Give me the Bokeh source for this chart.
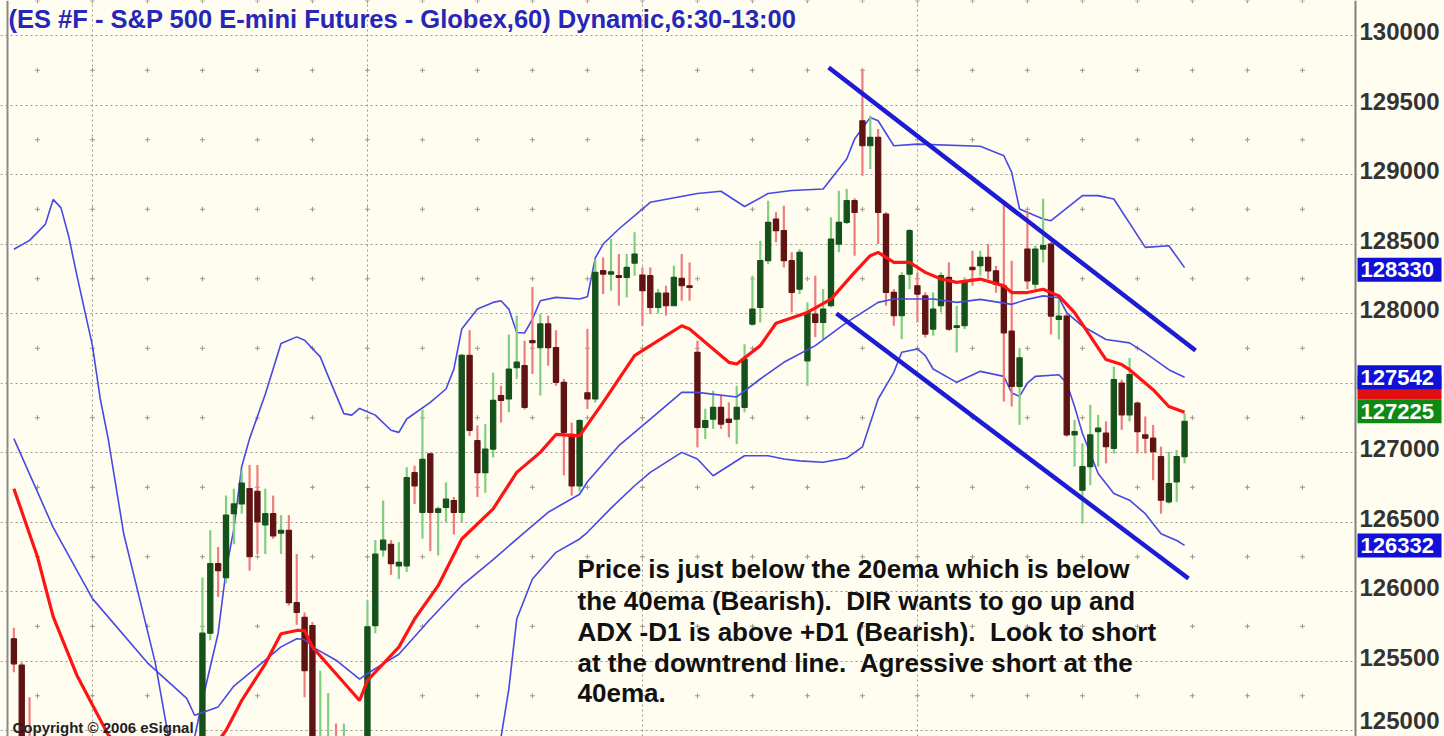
from bokeh.plotting import figure
from bokeh.models import Range1d, FixedTicker, Span
from bokeh.core.properties import value
from bokeh.embed import file_html
from bokeh.resources import INLINE

# ---------------- data ----------------
title_text = "(ES #F - S&P 500 E-mini Futures - Globex,60) Dynamic,6:30-13:00"
note_lines = [
    "Price is just below the 20ema which is below",
    "the 40ema (Bearish).\u00a0 DIR wants to go up and",
    "ADX -D1 is above +D1 (Bearish).\u00a0 Look to short",
    "at the downtrend line.\u00a0 Agressive short at the",
    "40ema.",
]
copyright_text = "Copyright \u00a9 2006 eSignal"

price_ticks = [125000, 125500, 126000, 126500, 127000, 127500,
               128000, 128500, 129000, 129500, 130000]
label_ticks = [125000, 125500, 126000, 126500, 127000,
               128000, 128500, 129000, 129500, 130000]
week_start_bars = [10, 45, 80, 115]

# hourly bars (bar index, open, high, low, close)
bar = [0, 1, 2] + list(range(24, 43)) + list(range(45, 150))
open_ = [125660, 125470, 124900,
         124850, 125700, 126200, 126100, 126560, 126630, 126740, 126720, 126480, 126560,
         126420, 126440, 125920, 125815, 125755, 124700, 124750, 124900, 124700,
         124850, 125755, 126300, 126340, 126185, 126185, 126855, 126570, 126990, 126570,
         126605, 126655, 126570, 127700, 127085, 126855, 127025, 127410, 127385, 127610,
         127625, 127805, 127755, 127925, 127755, 127505, 127130, 126760, 127430, 127385,
         128308, 128284, 128272, 128260, 128363, 128277, 128272, 128044, 128147, 128056,
         128253, 128200, 127720, 127180, 127240, 127325, 127240, 127240, 127325, 127924,
         128044, 128380, 128680, 128596, 128380, 128176, 127660, 127996, 127936, 128056,
         128500, 128656, 128812, 129387, 129207, 129267, 128716, 128152, 127984, 128284,
         128200, 128128, 127888, 128056, 128260, 127900, 127912, 128332, 128344, 128404,
         128307, 128199, 127873, 127476, 128464, 128211, 128464, 128500, 127958, 127982,
         127127, 126729, 126898, 127151, 127139, 127030, 127500, 127271, 127355, 127127,
         127103, 126970, 126645, 126789, 126970]
high = [125740, 125490, 125240,
        126100, 126440, 126320, 126690, 126740, 126870, 126910, 126910, 126740, 126690,
        126550, 126550, 126270, 125850, 125780, 125430, 125270, 125050, 125050,
        125935, 126370, 126655, 126370, 126355, 126895, 126905, 127310, 127000, 126610,
        126785, 126680, 127710, 127880, 127195, 127205, 127575, 127480, 127850, 127985,
        127805, 128190, 127995, 127985, 127880, 127530, 127215, 127240, 127890, 128390,
        128404, 128536, 128428, 128428, 128584, 128332, 128332, 128176, 128200, 128344,
        128428, 128368, 127805, 127315, 127445, 127410, 127360, 127480, 127780, 128272,
        128524, 128812, 128728, 128776, 128440, 128464, 128080, 128272, 128176, 128692,
        128884, 128896, 128830, 129760, 129423, 129327, 128728, 128176, 128296, 128608,
        128296, 128152, 128152, 128296, 128368, 128056, 128260, 128452, 128452, 128500,
        128343, 128789, 128380, 127753, 128729, 128488, 128825, 128512, 128139, 128006,
        127235, 127066, 127343, 127271, 127223, 127620, 127524, 127681, 127367, 127259,
        127199, 127042, 127006, 127018, 127283]
low = [125420, 124700, 124600,
       124800, 125650, 125960, 126060, 126340, 126560, 126150, 126270, 126270, 126380,
       126270, 125900, 125760, 125240, 124850, 124650, 124700, 124650, 124650,
       124800, 125700, 126250, 126120, 126090, 126140, 126630, 126380, 126290, 126260,
       126500, 126410, 126500, 127120, 126680, 126710, 126965, 127215, 127290, 127530,
       127310, 127565, 127410, 127625, 127480, 126835, 126690, 126720, 127313, 127360,
       128140, 128164, 128056, 128116, 128272, 127912, 127996, 128000, 127985, 128056,
       128092, 128092, 127037, 127097, 127170, 127170, 127110, 127060, 127290, 127912,
       127936, 128356, 128512, 128332, 128008, 128140, 127480, 127830, 127816, 128044,
       128440, 128644, 128416, 128992, 129040, 128500, 128056, 127912, 127816, 128176,
       127936, 127828, 127840, 128008, 127876, 127720, 127888, 128200, 128272, 128247,
       128150, 127367, 127331, 127199, 128175, 128175, 128367, 127850, 127813, 127115,
       126898, 126488, 126765, 126898, 126922, 126994, 127163, 127223, 126994, 126994,
       126801, 126560, 126633, 126645, 126922]
close = [125480, 124800, 124700,
         125700, 126200, 126150, 126550, 126630, 126780, 126250, 126500, 126560, 126400,
         126440, 125920, 125850, 125430, 124900, 124880, 124900, 124700, 124850,
         125745, 126270, 126370, 126200, 126210, 126820, 126760, 126950, 126570, 126595,
         126665, 126570, 127700, 127160, 126855, 127025, 127375, 127375, 127600, 127650,
         127325, 127790, 127925, 127755, 127505, 127145, 126760, 127230, 127385, 128296,
         128284, 128300, 128260, 128332, 128428, 128164, 128044, 128147, 128056, 128260,
         128200, 128188, 127180, 127230, 127325, 127205, 127217, 127325, 127673, 128032,
         128380, 128656, 128596, 128380, 128152, 128440, 128008, 127936, 128032, 128536,
         128656, 128812, 128728, 129207, 129267, 128728, 128152, 127984, 128272, 128596,
         128140, 127852, 128032, 128272, 127888, 127912, 128236, 128316, 128404, 128307,
         128211, 127861, 127476, 127681, 128235, 128464, 128488, 127982, 127982, 127127,
         127151, 126898, 127127, 127175, 127042, 127524, 127271, 127560, 127151, 127103,
         127006, 126657, 126777, 126970, 127225]

# studies (bar index, value)
ema20_bar = [0, 3, 5, 8, 12, 15, 20, 25, 27, 29, 32, 34, 36, 37, 38, 41, 44, 45, 49, 51,
             54, 57, 61, 64, 67, 69, 72, 75, 79, 81, 85, 86, 89, 91, 92, 95, 97, 101,
             104, 107, 109, 110, 112, 114, 116, 118, 120, 123, 126, 127, 129, 131, 133,
             135, 137, 139, 141, 142, 145, 147, 149]
ema20 = [126740, 126250, 125820, 125400, 124970, 124800, 124700, 124850, 125000, 125216,
         125480, 125696, 125720, 125720, 125600, 125408, 125216, 125360, 125600, 125802,
         126042, 126378, 126594, 126857, 127001, 127130, 127120, 127361, 127697, 127769,
         127912, 127888, 127745, 127649, 127637, 127769, 127930, 128008, 128104, 128296,
         128416, 128440, 128368, 128368, 128296, 128248, 128224, 128248, 128199, 128151,
         128151, 128175, 128127, 128006, 127837, 127669, 127633, 127596, 127452, 127331,
         127290]
ema40_bar = [0, 5, 10, 17, 22, 23, 26, 28, 32, 34, 36, 37, 38, 41, 44, 45, 49, 53, 57,
             61, 65, 68, 72, 73, 77, 81, 85, 87, 92, 95, 98, 102, 106, 109, 110, 112, 117,
             120, 123, 127, 129, 131, 133, 134, 136, 139, 142, 144, 147, 149]
ema40 = [127100, 126462, 125949, 125487, 125231, 125110, 125170, 125320, 125506, 125602,
         125660, 125655, 125602, 125506, 125370, 125410, 125549, 125802, 126042, 126230,
         126426, 126570, 126700, 126790, 127049, 127241, 127433, 127433, 127400, 127529,
         127649, 127769, 127936, 128044, 128080, 128104, 128104, 128080, 128102, 128066,
         128102, 128127, 128114, 128006, 127910, 127813, 127789, 127717, 127596, 127542]
upper_bar = [0, 2, 4, 5, 6, 7, 8, 10, 11, 12, 14, 16, 18, 20, 21, 23, 24, 26, 27, 28, 29,
             30, 32, 34, 36, 37, 39, 40, 42, 43, 44, 45, 46, 48, 49, 50, 53, 55, 56, 57,
             59, 61, 62, 63, 64, 65, 66, 67, 69, 72, 73, 74, 75, 77, 81, 87, 90, 93, 96,
             99, 103, 106, 107, 109, 110, 112, 115, 123, 126, 127, 128, 131, 132, 136,
             138, 140, 144, 147, 149]
upper = [128462, 128526, 128641, 128821, 128760, 128550, 128280, 127769, 127385, 127100,
         126410, 125949, 125487, 124850, 124600, 124950, 125218, 125700, 126150, 126450,
         126900, 127100, 127420, 127784, 127832, 127808, 127688, 127550, 127280, 127269,
         127317, 127293, 127269, 127160, 127145, 127241, 127361, 127457, 127600, 127888,
         128032, 128080, 128092, 128032, 127864, 127860, 127960, 128092, 128116, 128104,
         128120, 128400, 128500, 128608, 128800, 128863, 128880, 128770, 128863, 128885,
         128896, 129112, 129255, 129411, 129387, 129207, 129219, 129203, 129135, 129016,
         128752, 128680, 128668, 128848, 128848, 128824, 128476, 128488, 128330]
lower_bar = [58, 61, 62, 63, 64, 66, 69, 72, 73, 76, 79, 81, 85, 87, 89, 91, 93, 96, 98,
             100, 103, 106, 108, 110, 112, 113, 115, 116, 117, 120, 123, 126, 127, 128,
             129, 130, 133, 134, 135, 136, 138, 140, 142, 144, 146, 148, 149]
lower = [124500, 124800, 124950, 125300, 125802, 126090, 126282, 126378, 126426, 126600,
         126761, 126857, 127001, 126953, 126833, 126905, 126977, 126977, 126953, 126940,
         126930, 126960, 127040, 127385, 127577, 127721, 127745, 127697, 127601, 127505,
         127584, 127548, 127428, 127404, 127500, 127548, 127560, 127500, 127331, 127139,
         126849, 126705, 126657, 126560, 126416, 126367, 126332]

# hand-drawn trend lines
trend_top_bar = [103.7, 150.4]
trend_top = [129770, 127734]
trend_bot_bar = [104.7, 149.5]
trend_bot = [128000, 126094]

# price tags on the axis (value, colour, text shown)
tag_values = [127290, 128330, 127542, 126332, 127225]
tag_colors = ["#e01010", "#1010d8", "#1010d8", "#1010d8", "#0c8a14"]
tag_shown = [False, True, True, True, True]
tag_shift_px = [25, -2, 0, 0, 10]

# ---------------- layout ----------------
W, H = 1444, 736
BAR0_PX, PX_PER_BAR = 13.37, 7.857
AXIS_PX = 1355
X0 = -BAR0_PX / PX_PER_BAR
X1 = (W - BAR0_PX) / PX_PER_BAR
Y0, Y1 = 124957, 130252
PPU = H / (Y1 - Y0)          # pixels per price unit
BG = "#fffcf0"
GRID = "#9d968a"
FONT = value("Liberation Sans")


def px_x(px):
    return X0 + px * (X1 - X0) / W


def px_y(py):
    return Y1 - py / PPU


p = figure(width=W, height=H, x_range=Range1d(X0, X1), y_range=Range1d(Y0, Y1),
           output_backend="svg", toolbar_location=None,
           x_axis_location=None, y_axis_location=None,
           min_border_left=0, min_border_right=0,
           min_border_top=0, min_border_bottom=0,
           background_fill_color=BG, border_fill_color=BG,
           outline_line_color=None)

# grid
p.ygrid.ticker = FixedTicker(ticks=price_ticks)
p.ygrid.grid_line_color = GRID
p.ygrid.grid_line_dash = "2 3"
p.ygrid.grid_line_width = 1
p.xgrid.ticker = FixedTicker(ticks=week_start_bars)
p.xgrid.grid_line_color = GRID
p.xgrid.grid_line_dash = "2 3"
p.xgrid.grid_line_width = 1

# day markers at the half-levels
day_bars = list(range(3, 171, 7))
half_levels = [t + 250 for t in price_ticks[:-1]] + [130250]
dx, dy = [], []
for b in day_bars:
    for lv in half_levels:
        dx.append(b)
        dy.append(lv)
p.scatter(dx, dy, marker="cross", size=5, line_color=GRID, line_width=1)

# bands
band_col = "#4848e4"
p.line(upper_bar, upper, color=band_col, line_width=1.6)
p.line(lower_bar, lower, color=band_col, line_width=1.6)

# candles
up = [c >= o for o, c in zip(open_, close)]
wick_col = ["#7fcf7f" if u else "#ee7d7d" for u in up]
body_col = ["#15521b" if u else "#601313" for u in up]
tops = [max(o, c) for o, c in zip(open_, close)]
bots = [min(o, c) for o, c in zip(open_, close)]
p.segment(x0=bar, y0=low, x1=bar, y1=high, line_color=wick_col, line_width=2.2)
p.vbar(x=bar, width=0.66, top=tops, bottom=bots, fill_color=body_col,
       line_color=body_col, line_width=1.2)

# moving averages
p.line(ema40_bar, ema40, color=band_col, line_width=1.6)
p.line(ema20_bar, ema20, color="#ff1414", line_width=3.2)

# trend lines
p.line(trend_top_bar, trend_top, color="#1c1cd4", line_width=4.5)
p.line(trend_bot_bar, trend_bot, color="#1c1cd4", line_width=4.5)

# price-scale panel (right of the axis line)
p.quad(left=[px_x(AXIS_PX + 1)], right=[X1 + 1], bottom=[Y0 - 100], top=[Y1 + 100],
       fill_color=BG, line_color=None)
p.add_layout(Span(location=px_x(AXIS_PX), dimension="height",
                  line_color="#808080", line_width=2))
p.add_layout(Span(location=px_x(7), dimension="height",
                  line_color="#8a8a8a", line_width=2))

lab_off = [-4 if t > Y0 + 300 else -10 for t in label_ticks]
p.text(x=[px_x(AXIS_PX + 4)] * len(label_ticks), y=label_ticks,
       text=[str(t) for t in label_ticks], y_offset=lab_off,
       text_font=FONT, text_font_size="24px", text_font_style="bold",
       text_color="#333333", text_baseline="middle", text_align="left")

# price tags
tag_y = [v + s / PPU for v, s in zip(tag_values, tag_shift_px)]
half_h = 12 / PPU
p.quad(left=[px_x(AXIS_PX + 2)] * len(tag_y), right=[px_x(AXIS_PX + 86)] * len(tag_y),
       bottom=[y - half_h for y in tag_y], top=[y + half_h for y in tag_y],
       fill_color=tag_colors, line_color=None)
shown = [(v, y) for v, y, s in zip(tag_values, tag_y, tag_shown) if s]
p.text(x=[px_x(AXIS_PX + 5)] * len(shown), y=[y for _, y in shown],
       text=[str(v) for v, _ in shown],
       text_font=FONT, text_font_size="22px", text_font_style="bold",
       text_color="white", text_baseline="middle", text_align="left")

# title, note, copyright
p.text(x=[px_x(8)], y=[px_y(18)], text=[title_text], text_font=FONT,
       text_font_size="25.5px", text_font_style="bold", text_color="#2626b8",
       text_baseline="middle", text_align="left")
note_py = [568, 600, 631, 662, 692]
p.text(x=[px_x(577)] * len(note_lines), y=[px_y(v) for v in note_py], text=note_lines,
       text_font=FONT, text_font_size="26px", text_font_style="bold",
       text_color="#111111", text_baseline="middle", text_align="left")
p.text(x=[px_x(12)], y=[px_y(727)], text=[copyright_text], text_font=FONT,
       text_font_size="15px", text_font_style="bold", text_color="#222222",
       text_baseline="middle", text_align="left")

open("out.html", "w").write(file_html(p, INLINE))
